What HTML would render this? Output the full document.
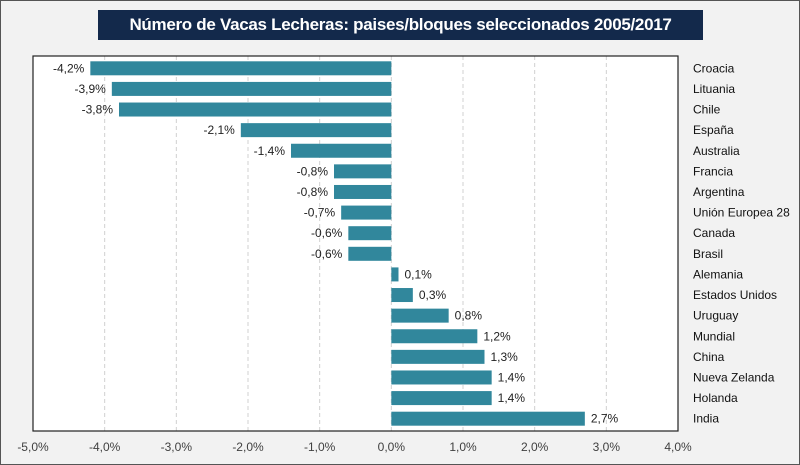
<!DOCTYPE html>
<html><head><meta charset="utf-8"><style>
body{margin:0;background:#fff}
#wrap{position:relative;width:798px;height:463px;border:1px solid #555;background:#f2f2f2;overflow:hidden;font-family:"Liberation Sans",sans-serif}
#title{position:absolute;left:97px;top:9px;width:605px;height:30px;background:#13294b;color:#fff;font-weight:bold;font-size:17px;letter-spacing:-0.3px;white-space:nowrap;line-height:30px;text-align:center}
svg{position:absolute;left:0;top:0}
</style></head><body>
<div id="wrap">
<div id="title">Número de Vacas Lecheras: paises/bloques seleccionados 2005/2017</div>
<svg id="chart" width="800" height="465"></svg>
</div>
<script>
const categories=["Croacia","Lituania","Chile","España","Australia","Francia","Argentina","Unión Europea 28","Canada","Brasil","Alemania","Estados Unidos","Uruguay","Mundial","China","Nueva Zelanda","Holanda","India"];
const values=[-4.2,-3.9,-3.8,-2.1,-1.4,-0.8,-0.8,-0.7,-0.6,-0.6,0.1,0.3,0.8,1.2,1.3,1.4,1.4,2.7];
const ticks=[-5,-4,-3,-2,-1,0,1,2,3,4];
const NS="http://www.w3.org/2000/svg",svg=document.getElementById('chart');
const L=32,R=677,T=55,B=430;
const x=v=>L+(v+5)/9*(R-L);
const step=(B-T-4)/categories.length;
const yc=i=>T+2+step*(i+0.5);
function mk(t,a,txt){const e=document.createElementNS(NS,t);for(const k in a)e.setAttribute(k,a[k]);if(txt!=null)e.textContent=txt;svg.appendChild(e);return e;}
const bg=mk('rect',{x:L,y:T,width:R-L,height:B-T,fill:'#fff'});


ticks.forEach(t=>{
 if(t>-5&&t<4){const g=mk('line',{x1:x(t),x2:x(t),y1:T,y2:B,stroke:'#d0d0d0','stroke-dasharray':'4,3'});
 
 }
 const lb=mk('text',{x:x(t),y:450,'text-anchor':'middle','font-size':12,fill:'#404040'},t.toFixed(1).replace('.',',')+'%');
 
 
});
categories.forEach((c,i)=>{
 const v=values[i],y0=yc(i);
 const b=mk('rect',{x:Math.min(x(0),x(v)),y:y0-7,width:Math.abs(x(v)-x(0)),height:14,fill:'#31879c'});
 
 
 const tv=mk('text',{x:v<0?x(v)-6:x(v)+6,y:y0+4,'text-anchor':v<0?'end':'start','font-size':12,fill:'#222'},v.toFixed(1).replace('.',',')+'%');
 
 
 const tc=mk('text',{x:692,y:y0+4,'font-size':12,fill:'#111'},c);
 
 
});
const fr=mk('rect',{x:L,y:T,width:R-L,height:B-T,fill:'none',stroke:'#222','stroke-width':1.2});


</script>
</body></html>
